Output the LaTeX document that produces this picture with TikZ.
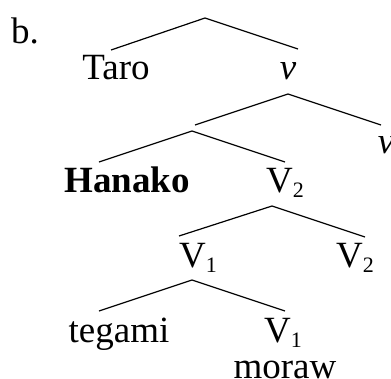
\documentclass[tikz,border=0pt]{standalone}
\usepackage{fontspec}
\setmainfont{Liberation Serif}
\newcommand\sbs[1]{\raisebox{-5pt}{\fontsize{22}{22}\selectfont #1}}
\begin{document}
\begin{tikzpicture}[x=1pt,y=-1pt,
  lbl/.style={inner sep=0pt, font=\fontsize{37}{40}\selectfont},
  edge/.style={line width=1.2pt}]
\useasboundingbox (0,0) rectangle (391,378);
% labels
\node[lbl, anchor=base] (b) at (25,43) {b.};
\node[lbl, anchor=base] (taro) at (116,79) {Taro};
\node[lbl, anchor=base] (vtop) at (288,79) {\itshape v};
\node[lbl, anchor=base] (vright) at (386,153) {\itshape v};
\node[lbl, anchor=base, font=\fontsize{37}{40}\selectfont\bfseries] (hanako) at (127,192) {Hanako};
\node[lbl, anchor=base west] (Vtwoa) at (266,192) {V\sbs{2}};
\node[lbl, anchor=base west] (Vonea) at (179,267) {V\sbs{1}};
\node[lbl, anchor=base west] (Vtwob) at (336,267) {V\sbs{2}};
\node[lbl, anchor=base] (tegami) at (119,342) {tegami};
\node[lbl, anchor=base west] (Voneb) at (264,342) {V\sbs{1}};
\node[lbl, anchor=base] (moraw) at (285,378) {moraw};
% branching points
\coordinate (a0) at (205,18);  \coordinate (a0l) at (111,50);  \coordinate (a0r) at (298,49);
\coordinate (a1) at (288,94);  \coordinate (a1l) at (195,125); \coordinate (a1r) at (381,125);
\coordinate (a2) at (192,131); \coordinate (a2l) at (99,162);  \coordinate (a2r) at (285,162);
\coordinate (a3) at (272,206); \coordinate (a3l) at (179,236); \coordinate (a3r) at (365,237);
\coordinate (a4) at (192,280); \coordinate (a4l) at (99,311);  \coordinate (a4r) at (285,311);
\draw[edge] (a0l) -- (a0) -- (a0r);
\draw[edge] (a1l) -- (a1) -- (a1r);
\draw[edge] (a2l) -- (a2) -- (a2r);
\draw[edge] (a3l) -- (a3) -- (a3r);
\draw[edge] (a4l) -- (a4) -- (a4r);
\end{tikzpicture}
\end{document}
